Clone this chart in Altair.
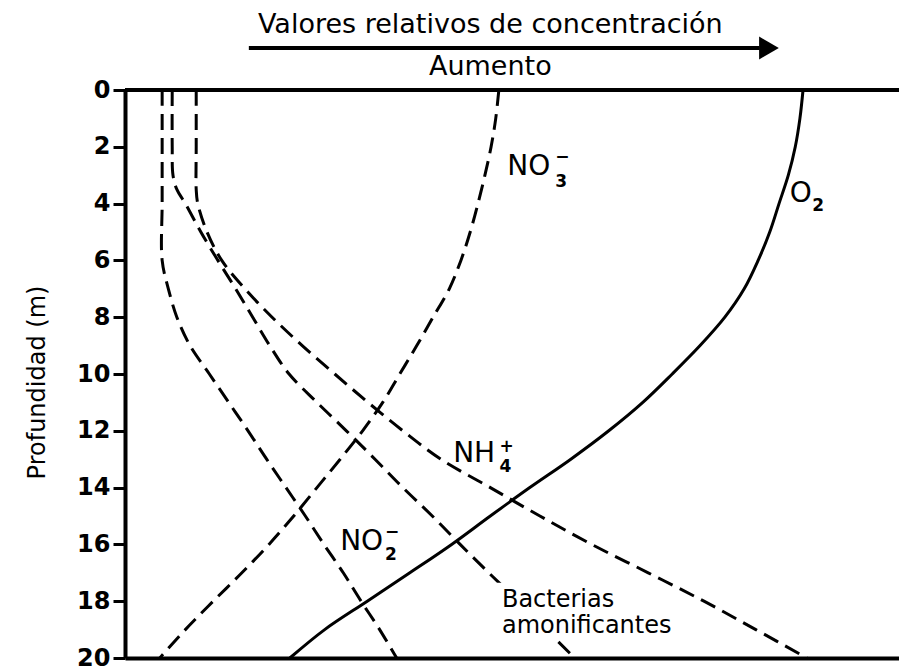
import altair as alt
import pandas as pd

# ---- data (relative concentration 0-100, depth in m) ----
no2_depth = [0, 2, 4, 6, 7, 8, 9, 10, 11, 12, 13, 14, 15, 16, 17, 18, 19, 20]
no2_value = [4.8, 4.8, 4.8, 4.8, 5.6, 6.7, 8.4, 10.9, 13.4, 15.9, 18.3, 20.8, 23.3, 25.7, 28.2, 30.5, 32.9, 35.1]

bact_depth = [0, 2, 3, 3.5, 4, 5, 6, 7, 8, 9, 10, 11, 12, 13, 14, 15, 16, 17, 18, 19, 20]
bact_value = [6.1, 6.1, 6.2, 6.7, 7.8, 9.8, 12.0, 14.3, 16.5, 18.7, 21.2, 24.8, 28.6, 32.3, 35.9, 39.7, 43.3, 47.0, 50.8, 54.4, 58.1]

nh4_depth = [0, 2, 3.5, 4, 5, 6, 7, 8, 9, 10, 11, 12, 13, 14, 15, 16, 17, 18, 19, 20]
nh4_value = [9.2, 9.2, 9.2, 9.4, 10.6, 12.5, 15.5, 19.0, 22.9, 27.1, 31.4, 35.9, 40.8, 47.2, 53.6, 60.3, 67.6, 74.8, 81.5, 88.1]

no3_depth = list(range(0, 21))
no3_value = [48.3, 47.9, 47.3, 46.5, 45.6, 44.6, 43.4, 41.9, 39.8, 37.7, 35.5, 33.3, 30.7, 27.8, 24.8, 21.8, 18.6, 15.1, 11.4, 7.8, 4.5]

o2_depth = list(range(0, 21))
o2_value = [87.6, 87.2, 86.6, 85.7, 84.5, 83.3, 81.8, 80.0, 77.5, 74.3, 70.7, 66.9, 62.5, 57.6, 52.3, 47.2, 42.2, 36.8, 31.3, 25.8, 21.3]

depth_ticks = [0, 2, 4, 6, 8, 10, 12, 14, 16, 18, 20]

# labels
main_text = ["NO", "O", "NH", "NO"]
main_x = [49.4, 85.9, 42.4, 27.8]
main_d = [2.99, 3.94, 13.1, 16.2]

script_text = ["3", "\u2212", "2", "4", "+", "2", "\u2212"]
script_x = [55.6, 55.6, 88.8, 48.4, 48.4, 33.6, 33.6]
script_d = [3.42, 2.54, 4.26, 13.45, 12.73, 16.55, 15.74]

bact_text = ["Bacterias", "amonificantes"]
bact_x = [48.7, 48.7]
bact_d = [18.2, 19.12]

FONT = "DejaVu Sans"

rows = []
for name, ds, vs in [("NO2", no2_depth, no2_value), ("Bact", bact_depth, bact_value),
                     ("NH4", nh4_depth, nh4_value), ("NO3", no3_depth, no3_value)]:
    for i, (d, v) in enumerate(zip(ds, vs)):
        rows.append({"serie": name, "depth": d, "value": v, "i": i})
dashed_df = pd.DataFrame(rows)
o2_df = pd.DataFrame({"depth": o2_depth, "value": o2_value, "i": list(range(len(o2_depth)))})

xs = alt.Scale(domain=[0, 100], nice=False, zero=False)
ys = alt.Scale(domain=[0, 20], reverse=True, nice=False, zero=False)

x_axis = alt.Axis(labels=False, ticks=False, title=None, grid=False,
                  domainWidth=4, domainColor="black")
y_axis = alt.Axis(values=depth_ticks, grid=False, tickSize=12, tickWidth=3, tickColor="black",
                  domainWidth=4, domainColor="black", labelFont=FONT, labelFontWeight="bold",
                  labelFontSize=24, labelColor="black", labelPadding=3,
                  title="Profundidad (m)", titleFont=FONT, titleFontSize=24,
                  titleFontWeight="normal", titleColor="black", titleAngle=270,
                  titleX=-88, titleY=292, titleAlign="center", titleBaseline="middle")

dashed = alt.Chart(dashed_df).mark_line(
    color="black", strokeWidth=3, strokeDash=[16, 8], interpolate="catmull-rom"
).encode(
    x=alt.X("value:Q", scale=xs, axis=x_axis),
    y=alt.Y("depth:Q", scale=ys, axis=y_axis),
    detail="serie:N",
    order="i:Q",
)

o2 = alt.Chart(o2_df).mark_line(color="black", strokeWidth=3, interpolate="catmull-rom").encode(
    x=alt.X("value:Q", scale=xs),
    y=alt.Y("depth:Q", scale=ys),
    order="i:Q",
)

frame_df = pd.DataFrame({"x0": [0], "x1": [100], "d": [0]})
top_frame = alt.Chart(frame_df).mark_rule(color="black", strokeWidth=4).encode(
    x=alt.X("x0:Q", scale=xs), x2="x1:Q", y=alt.Y("d:Q", scale=ys)
)

mask_df = pd.DataFrame({"x0": [48.0], "x1": [60.5], "d0": [17.35], "d1": [19.35]})
mask = alt.Chart(mask_df).mark_rect(color="white").encode(
    x=alt.X("x0:Q", scale=xs), x2="x1:Q", y=alt.Y("d0:Q", scale=ys), y2="d1:Q"
)

main_df = pd.DataFrame({"t": main_text, "x": main_x, "d": main_d})
main_lbl = alt.Chart(main_df).mark_text(
    font=FONT, fontSize=28, align="left", baseline="alphabetic", color="black"
).encode(x=alt.X("x:Q", scale=xs), y=alt.Y("d:Q", scale=ys), text="t:N")

script_df = pd.DataFrame({"t": script_text, "x": script_x, "d": script_d})
script_lbl = alt.Chart(script_df).mark_text(
    font=FONT, fontSize=17, fontWeight="bold", align="left", baseline="alphabetic", color="black"
).encode(x=alt.X("x:Q", scale=xs), y=alt.Y("d:Q", scale=ys), text="t:N")

bact_df = pd.DataFrame({"t": bact_text, "x": bact_x, "d": bact_d})
bact_lbl = alt.Chart(bact_df).mark_text(
    font=FONT, fontSize=24, align="left", baseline="alphabetic", color="black"
).encode(x=alt.X("x:Q", scale=xs), y=alt.Y("d:Q", scale=ys), text="t:N")

one = pd.DataFrame({"k": [0]})
header = alt.Chart(one).mark_text(
    font=FONT, fontSize=27, align="center", baseline="alphabetic", color="black",
    text="Valores relativos de concentración"
).encode(x=alt.datum(47.2), y=alt.value(-57))
aumento = alt.Chart(one).mark_text(
    font=FONT, fontSize=27, align="center", baseline="alphabetic", color="black",
    text="Aumento"
).encode(x=alt.datum(47.2), y=alt.value(-15))
arrow_line = alt.Chart(one).mark_rule(color="black", strokeWidth=4).encode(
    x=alt.datum(16.0), x2=alt.datum(82.0), y=alt.value(-42)
)
arrow_head = alt.Chart(one).mark_point(
    shape="triangle-right", filled=True, color="black", size=520, opacity=1
).encode(x=alt.datum(83.2), y=alt.value(-42))

chart = alt.layer(
    dashed, o2, top_frame, mask, main_lbl, script_lbl, bact_lbl,
    header, aumento, arrow_line, arrow_head
).properties(
    width=774, height=568,
    padding={"left": 117, "top": 82, "right": 0, "bottom": 12},
    autosize=alt.AutoSizeParams(type="none"),
).configure_view(stroke=None)

chart.save("out.html", embed_options={"renderer": "svg", "actions": False})
